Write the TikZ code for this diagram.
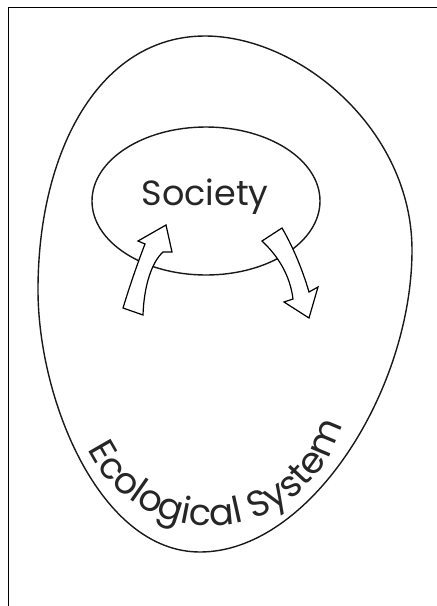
\documentclass[tikz,border=0pt]{standalone}
\usepackage{fontspec}
\newfontfamily\gothic{Poppins}
\usetikzlibrary{shapes.geometric,decorations.text}

\begin{document}
\begin{tikzpicture}[x=1pt, y=-1pt,
    outline/.style={line width=1.4pt, black!90},
    blockarrow/.style={draw, line width=1.2pt, fill=white, line join=miter},
    bigtext/.style={font=\gothic\fontsize{35}{40}\selectfont, text=black!85}]
  \useasboundingbox (0,0) rectangle (437,606);

  % Frame
  \draw[line width=0.8pt] (8,606) -- (8,7) -- (437,7);

  % Ecological system
  \coordinate (ecotop) at (205,36);
  \coordinate (ecoright) at (412,250);
  \coordinate (ecobottom) at (200,552);
  \coordinate (ecoleft) at (38,290);
  \draw[outline] (ecotop) .. controls (300,36) and (412,130) .. (ecoright)
    .. controls (412,390) and (310,552) .. (ecobottom)
    .. controls (100,552) and (38,400) .. (ecoleft)
    .. controls (38,150) and (100,36) .. (ecotop) -- cycle;

  % Society
  \node[ellipse, draw, outline, minimum width=228pt, minimum height=148pt] (society) at (206,201) {};
  \node[bigtext, anchor=base] (societytext) at (205,205) {Society};

  % Arrows
  \draw[blockarrow] (123,308) .. controls (130,285) and (138,262) .. (145,244)
    -- (138,241) -- (166,225) -- (172,252) -- (163,252)
    .. controls (152,262) and (144,285) .. (143,315) -- cycle;
  \draw[blockarrow] (262,241) .. controls (278,256) and (290,275) .. (293,299)
    -- (284,302) -- (309,318) -- (318,287) -- (309,292)
    .. controls (302,268) and (292,245) .. (282,228) -- cycle;

  % Label along the bottom
  \path[decorate, decoration={text along path,
      text={|\gothic\fontsize{36.5}{40}\selectfont\color{black!85}|Ecological System}}]
    (210,390) ++(154:136) arc[start angle=154, end angle=-20, radius=136];
\end{tikzpicture}
\end{document}
